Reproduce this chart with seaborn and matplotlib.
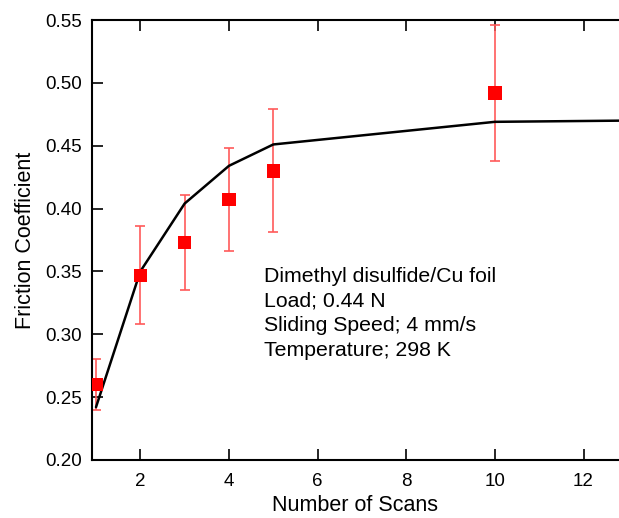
import matplotlib
matplotlib.use("Agg")
import matplotlib.pyplot as plt
import seaborn as sns
import pandas as pd

sns.set_theme(style="ticks", rc={"text.color": "black", "axes.labelcolor": "black"})
plt.rcParams['font.family'] = ['Liberation Sans', 'DejaVu Sans']

# measured friction values
scans = [1, 2, 3, 4, 5, 10]
friction = [0.260, 0.347, 0.373, 0.407, 0.430, 0.492]
err = [0.020, 0.039, 0.038, 0.041, 0.049, 0.054]

# model curve
fit_x = [1, 2, 3, 4, 5, 10, 13]
fit_y = [0.242, 0.350, 0.404, 0.434, 0.451, 0.469, 0.470]

points = pd.DataFrame({"scans": scans, "friction": friction})
curve = pd.DataFrame({"scans": fit_x, "friction": fit_y})

fig = plt.figure(figsize=(6.19, 5.18), dpi=100)
ax = fig.add_axes([92/619, 58/518, 1 - 92/619, 440/518])

ax.errorbar(scans, friction, yerr=err, fmt="none", ecolor="#ff5a5a",
            elinewidth=1.2, capsize=3.3, capthick=1.2, zorder=2)
sns.lineplot(data=curve, x="scans", y="friction", color="black",
             linewidth=1.8, ax=ax, zorder=3)
sns.scatterplot(data=points, x="scans", y="friction", marker="s", s=92,
                color="red", edgecolor="none", ax=ax, zorder=4)

ax.set_xlim(0.91, 12.8)
ax.set_ylim(0.20, 0.55)
ax.set_xticks([2, 4, 6, 8, 10, 12])
yt = [0.20, 0.25, 0.30, 0.35, 0.40, 0.45, 0.50, 0.55]
ax.set_yticks(yt)
ax.set_yticklabels([f"{v:.2f}" for v in yt])
ax.tick_params(direction="in", length=8, width=1.2, labelsize=13.5,
               top=True, right=False, pad=7, colors="black")
ax.tick_params(axis="x", pad=9)
ax.spines["right"].set_visible(False)
for s in ["left", "top", "bottom"]:
    ax.spines[s].set_linewidth(1.5)
    ax.spines[s].set_color("black")

ax.set_xlabel("Number of Scans", fontsize=15.5, labelpad=4)
ax.set_ylabel("Friction Coefficient", fontsize=15.5, labelpad=7)

ax.text(264/619, 1 - 267/518, "Dimethyl disulfide/Cu foil\nLoad; 0.44 N\nSliding Speed; 4 mm/s\nTemperature; 298 K",
        transform=fig.transFigure, fontsize=15.3, va="top", ha="left",
        linespacing=1.38, color="black")

fig.savefig("out.png", dpi=100)
